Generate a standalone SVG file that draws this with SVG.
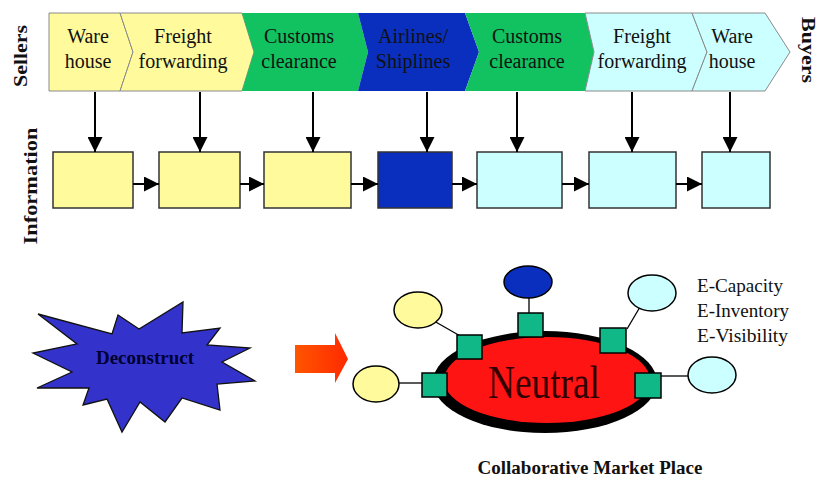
<svg xmlns="http://www.w3.org/2000/svg" width="817" height="479" viewBox="0 0 817 479">
<style>
.lbl{font-family:"Liberation Serif","Times New Roman",serif;font-size:20px;fill:#111;text-anchor:middle}
.side{font-family:"Liberation Serif","Times New Roman",serif;font-size:18px;font-weight:bold;fill:#111;text-anchor:middle}
.chev{stroke:#8a8a8a;stroke-width:1}
.y{fill:#FFFA9B}.g{fill:#12C15F}.b{fill:#0A2FBE}.c{fill:#CCFFFF}
.box{stroke:#333;stroke-width:1.5}
.ln{stroke:#000;stroke-width:2;fill:none}
.thin{stroke:#000;stroke-width:1.3;fill:none}
.sq{fill:#10B888;stroke:#000;stroke-width:1.5}
.el{stroke:#000;stroke-width:1.5}
.e{font-family:"Liberation Serif","Times New Roman",serif;font-size:19px;fill:#111}
</style>
<defs>
<marker id="ah" markerUnits="userSpaceOnUse" markerWidth="15" markerHeight="15" viewBox="0 0 15 15" refX="15" refY="7.5" orient="auto">
<path d="M0,0 L15,7.5 L0,15 z" fill="#000"/>
</marker>
<linearGradient id="rg" x1="0" y1="0" x2="1" y2="0">
<stop offset="0" stop-color="#FF5500"/>
<stop offset="1" stop-color="#FF2A00"/>
</linearGradient>
</defs>
<rect width="817" height="479" fill="#fff"/>

<text class="side" transform="translate(27,56) rotate(-90)" textLength="62" lengthAdjust="spacingAndGlyphs">Sellers</text>
<text class="side" transform="translate(802,50) rotate(90)" textLength="66" lengthAdjust="spacingAndGlyphs">Buyers</text>
<text class="side" transform="translate(37,186) rotate(-90)" textLength="117" lengthAdjust="spacingAndGlyphs">Information</text>

<g id="chain">
<g id="c1"><polygon class="chev y" points="49,13 120,13 133,52 120,91 49,91"/><text class="lbl" x="88" y="43">Ware</text><text class="lbl" x="88" y="68">house</text></g>
<g id="c2"><polygon class="chev y" points="120,13 242,13 254,52 242,91 120,91 133,52"/><text class="lbl" x="183" y="43">Freight</text><text class="lbl" x="183" y="68">forwarding</text></g>
<g id="c3"><polygon class="g" points="242,13 358,13 368,52 358,91 242,91 254,52"/><text class="lbl" x="299" y="43">Customs</text><text class="lbl" x="299" y="68">clearance</text></g>
<g id="c4"><polygon class="b" points="358,13 465,13 479,52 465,91 358,91 368,52"/><text class="lbl" x="413" y="43">Airlines/</text><text class="lbl" x="413" y="68">Shiplines</text></g>
<g id="c5"><polygon class="g" points="465,13 585,13 594,52 585,91 465,91 479,52"/><text class="lbl" x="527" y="43">Customs</text><text class="lbl" x="527" y="68">clearance</text></g>
<g id="c6"><polygon class="chev c" points="585,13 692,13 707,52 692,91 585,91 594,52"/><text class="lbl" x="642" y="43">Freight</text><text class="lbl" x="642" y="68">forwarding</text></g>
<g id="c7"><polygon class="chev c" points="692,13 765,13 790,52 765,91 692,91 707,52"/><text class="lbl" x="732" y="43">Ware</text><text class="lbl" x="732" y="68">house</text></g>
</g>

<g id="info">
<rect id="b1" class="box y" x="53" y="152" width="80" height="56"/>
<rect id="b2" class="box y" x="159" y="152" width="81" height="56"/>
<rect id="b3" class="box y" x="264" y="152" width="87" height="56"/>
<rect id="b4" class="box b" x="378" y="152" width="74" height="56"/>
<rect id="b5" class="box c" x="477" y="152" width="85" height="56"/>
<rect id="b6" class="box c" x="589" y="152" width="87" height="56"/>
<rect id="b7" class="box c" x="702" y="152" width="68" height="56"/>
</g>

<g id="connectors">
<line class="ln" x1="95" y1="92" x2="95" y2="152" marker-end="url(#ah)"/>
<line class="ln" x1="200" y1="92" x2="200" y2="152" marker-end="url(#ah)"/>
<line class="ln" x1="313" y1="92" x2="313" y2="152" marker-end="url(#ah)"/>
<line class="ln" x1="427" y1="92" x2="427" y2="152" marker-end="url(#ah)"/>
<line class="ln" x1="517" y1="92" x2="517" y2="152" marker-end="url(#ah)"/>
<line class="ln" x1="632" y1="92" x2="632" y2="152" marker-end="url(#ah)"/>
<line class="ln" x1="730" y1="92" x2="730" y2="152" marker-end="url(#ah)"/>
<line class="ln" x1="133" y1="184" x2="159" y2="184" marker-end="url(#ah)"/>
<line class="ln" x1="240" y1="184" x2="264" y2="184" marker-end="url(#ah)"/>
<line class="ln" x1="351" y1="184" x2="378" y2="184" marker-end="url(#ah)"/>
<line class="ln" x1="452" y1="184" x2="477" y2="184" marker-end="url(#ah)"/>
<line class="ln" x1="562" y1="184" x2="589" y2="184" marker-end="url(#ah)"/>
<line class="ln" x1="676" y1="184" x2="702" y2="184" marker-end="url(#ah)"/>
<line class="thin" x1="529" y1="298" x2="529" y2="313"/>
<line class="thin" x1="434" y1="321" x2="462" y2="337"/>
<line class="thin" x1="399" y1="383" x2="423" y2="383"/>
<line class="thin" x1="640" y1="307" x2="627" y2="329"/>
<line class="thin" x1="661" y1="376" x2="689" y2="376"/>
</g>

<g id="deconstruct">
<polygon fill="#3333CC" stroke="#111" stroke-width="1.3" points="38,314 112,334 118,315 139,329 183,302 182,333 220,328 207,345 250,348 222,362 255,381 217,384 220,410 182,398 165,422 140,402 122,432 107,399 83,405 89,388 37,388 72,372 33,353 77,344"/>
<text x="145" y="364" font-family="Liberation Serif,'Times New Roman',serif" font-size="19" font-weight="bold" fill="#000033" text-anchor="middle" textLength="98" lengthAdjust="spacingAndGlyphs">Deconstruct</text>
</g>

<g id="bigarrow">
<polygon fill="url(#rg)" points="295,345 335,345 335,333 348,359 335,383 335,373 295,373"/>
</g>

<g id="neutral">
<ellipse cx="545" cy="382" rx="112" ry="51" fill="#000"/>
<ellipse cx="547" cy="380" rx="103" ry="43" fill="#FF1414"/>
<text x="544" y="398" font-family="Liberation Serif,'Times New Roman',serif" font-size="46" fill="#330000" text-anchor="middle" textLength="112" lengthAdjust="spacingAndGlyphs">Neutral</text>
</g>

<g id="n-top"><ellipse class="el" cx="528" cy="282" rx="24" ry="16" fill="#0A2FBE"/><rect class="sq" x="518" y="313" width="25" height="24"/></g>
<g id="n-ul"><ellipse class="el" cx="418" cy="310" rx="24" ry="18" fill="#FFFA9B"/><rect class="sq" x="457" y="335" width="25" height="24"/></g>
<g id="n-l"><ellipse class="el" cx="376" cy="384" rx="23" ry="18" fill="#FFFA9B"/><rect class="sq" x="422" y="373" width="25" height="24"/></g>
<g id="n-ur"><ellipse class="el" cx="652" cy="293" rx="24" ry="18" fill="#CCFFFF"/><rect class="sq" x="600" y="328" width="26" height="25"/></g>
<g id="n-r"><ellipse class="el" cx="712" cy="375" rx="24" ry="18" fill="#CCFFFF"/><rect class="sq" x="635" y="373" width="26" height="25"/></g>

<text class="e" x="697" y="292" textLength="86" lengthAdjust="spacingAndGlyphs">E-Capacity</text>
<text class="e" x="697" y="317" textLength="92" lengthAdjust="spacingAndGlyphs">E-Inventory</text>
<text class="e" x="697" y="342" textLength="91" lengthAdjust="spacingAndGlyphs">E-Visibility</text>

<text x="590" y="474" font-family="Liberation Serif,'Times New Roman',serif" font-size="19" font-weight="bold" fill="#111" text-anchor="middle" textLength="225" lengthAdjust="spacingAndGlyphs">Collaborative Market Place</text>
</svg>
